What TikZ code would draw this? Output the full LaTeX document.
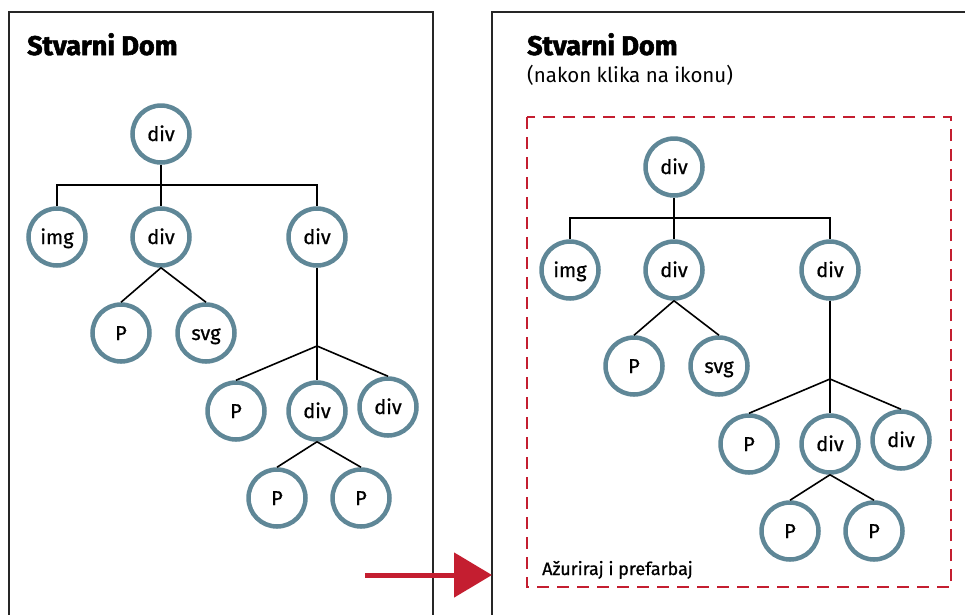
\documentclass[tikz,border=0pt]{standalone}
\usepackage{fontspec}
\setmainfont{Fira Sans}
\newfontfamily\heavyfont{Fira Sans}[FakeBold=2]
\newfontfamily\nodefont{Fira Sans}[FakeBold=0.8]
\usepackage{tikz}
\usetikzlibrary{arrows.meta,positioning}
\usepackage{xcolor}
\definecolor{nodeblue}{HTML}{5F8797}
\definecolor{domred}{HTML}{C41E30}

% one DOM tree, #1 = name prefix, #2 = position of the root
\newcommand{\domtree}[2]{%
\node[dom] (#1root) at (#2) {div};
\node[dom,below=103pt of #1root] (#1div) {div};
\node[dom,left=104pt of #1div] (#1img) {img};
\node[dom,right=156pt of #1div] (#1right) {div};
\node[dom,below left=96pt and 40pt of #1div] (#1p) {P};
\node[dom,below right=96pt and 45pt of #1div] (#1svg) {svg};
\coordinate[below=51pt of #1root] (#1bar);
\coordinate[below=109pt of #1right] (#1fork);
\node[dom,below=174pt of #1right] (#1mid) {div};
\node[dom,left=81pt of #1mid] (#1pa) {P};
\node[dom,above right=4pt and 71pt of #1mid] (#1last) {div};
\node[dom,below left=87pt and 40pt of #1mid] (#1pb) {P};
\node[dom,below right=87pt and 44pt of #1mid] (#1pc) {P};
\draw[edge] (#1root) -- (#1div);
\draw[edge] (#1img) |- (#1bar) -| (#1right);
\draw[edge] (#1div.south) -- (#1p.north);
\draw[edge] (#1div.south) -- (#1svg.north);
\draw[edge] (#1right) -- (#1fork) -- (#1mid);
\draw[edge] (#1fork) -- (#1pa.north);
\draw[edge] (#1fork) -- (#1last.north);
\draw[edge] (#1mid.south) -- (#1pb.north);
\draw[edge] (#1mid.south) -- (#1pc.north);
}

\begin{document}
\begin{tikzpicture}[x=1pt,y=-1pt,on grid,>=Latex]
\tikzstyle{dom}=[circle, draw=nodeblue, fill=white, line width=4.5pt, minimum size=57pt, inner sep=0pt, text height=14pt, text depth=0pt, font=\nodefont\fontsize{20}{22}\selectfont]
\tikzstyle{edge}=[line width=1.6pt]
\tikzstyle{frame}=[line width=1.8pt, black!85]
\tikzstyle{label}=[anchor=base west, inner sep=0pt]
\clip (0,0) rectangle (965,614);
\draw[frame] (9,620) |- (433,12) -- (433,620);
\draw[frame] (492,620) |- (970,12);
\node[label,font=\heavyfont\bfseries\fontsize{27}{30}\selectfont] (ltitle) at (27,55) {Stvarni Dom};
\node[label,font=\heavyfont\bfseries\fontsize{27}{30}\selectfont] (rtitle) at (527,55) {Stvarni Dom};
\node[label,font=\fontsize{20.5}{24}\selectfont] (rsub) at (527,82) {(nakon klika na ikonu)};
\draw[domred, line width=1.8pt, dash pattern=on 12pt off 8pt] (527,117) rectangle (951,587);
\node[label,font=\nodefont\fontsize{18}{20}\selectfont] (note) at (542,575) {Ažuriraj i prefarbaj};
\domtree{l}{161,134}
\domtree{r}{674,167}
\coordinate (arrfrom) at (365,575);
\coordinate (arrto) at (492,575);
\draw[domred, line width=5pt, -{Triangle[length=38pt,width=44pt]}] (arrfrom) -- (arrto);
\end{tikzpicture}
\end{document}
